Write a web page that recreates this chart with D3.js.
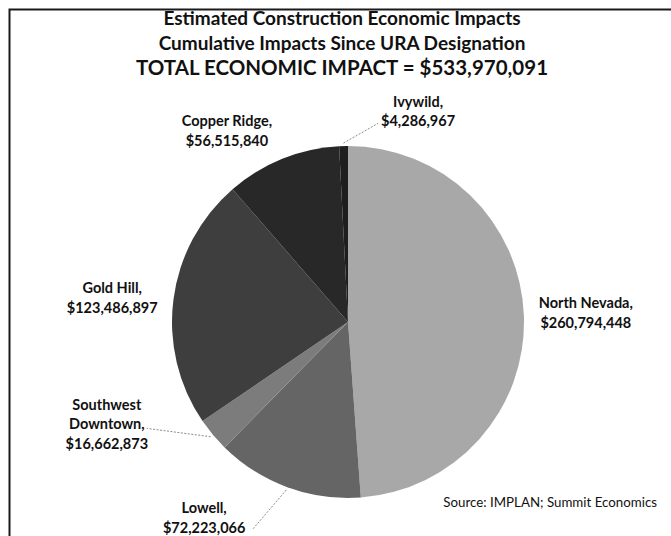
<!DOCTYPE html>
<html>
<head>
<meta charset="utf-8">
<script src="https://cdn.jsdelivr.net/npm/d3@7"></script>
<style>
  html, body { margin: 0; padding: 0; background: #fff; }
  svg { display: block; }
  text { font-family: Lato, "Open Sans", "DejaVu Sans", sans-serif; fill: #111; }
</style>
</head>
<body>
<svg id="chart" width="671" height="536"></svg>
<script>
// ---- data ----
const categories = ["North Nevada", "Lowell", "Southwest Downtown", "Gold Hill", "Copper Ridge", "Ivywild"];
const values = [260794448, 72223066, 16662873, 123486897, 56515840, 4286967];
const labelLines = [
  ["North Nevada,", "$260,794,448"],
  ["Lowell,", "$72,223,066"],
  ["Southwest", "Downtown,", "$16,662,873"],
  ["Gold Hill,", "$123,486,897"],
  ["Copper Ridge,", "$56,515,840"],
  ["Ivywild,", "$4,286,967"]
];
const titleLines = [
  "Estimated Construction Economic Impacts",
  "Cumulative Impacts Since URA Designation",
  "TOTAL ECONOMIC IMPACT = $533,970,091"
];
const sourceText = "Source: IMPLAN; Summit Economics";

// ---- layout / style ----
const W = 671, H = 536;
const cx = 348, cy = 322, R = 176;
const colors = ["#a8a8a8", "#656565", "#7c7c7c", "#3e3e3e", "#282828", "#1e1e1e"];
// label centre in polar coords relative to pie centre (deg clockwise from top, radius)
const labelPolar = [[87.8, 238], [216.3, 243], [247, 262], [275.8, 237], [327.6, 226], [18.4, 222]];
// leader lines: [index, end point offset from label centre]
const leaders = [
  {i: 5, dx: -40, dy: 12},
  {i: 2, dx: 40, dy: 4},
  {i: 1, dx: 48, dy: 12}
];

const svg = d3.select("#chart");

// frame
svg.append("path")
  .attr("d", `M9.5,${H + 5} V9.5 H${W + 5}`)
  .attr("fill", "none").attr("stroke", "#1a1a1a").attr("stroke-width", 2);

// titles
const titleY = [25, 50, 75];
const titleSize = [19, 19, 20.5];
titleLines.forEach((t, k) => {
  svg.append("text")
    .attr("x", 342).attr("y", titleY[k])
    .attr("text-anchor", "middle")
    .attr("font-weight", 700)
    .attr("font-size", titleSize[k])
    .text(t);
});

// pie
const pie = d3.pie().sort(null).value(d => d)(values);
const arc = d3.arc().innerRadius(0).outerRadius(R);
const g = svg.append("g").attr("transform", `translate(${cx},${cy})`);
g.selectAll("path.slice").data(pie).enter().append("path")
  .attr("class", "slice")
  .attr("d", arc)
  .attr("fill", (d, i) => colors[i]);

// labels
const rad = a => a * Math.PI / 180;
const lineH = 19.5;
const labelPos = labelPolar.map(([a, r]) => [Math.sin(rad(a)) * r, -Math.cos(rad(a)) * r]);

// leader lines
leaders.forEach(l => {
  const d = pie[l.i];
  const mid = (d.startAngle + d.endAngle) / 2;
  const p0 = [Math.sin(mid) * (R + 3), -Math.cos(mid) * (R + 3)];
  const p1 = [labelPos[l.i][0] + l.dx, labelPos[l.i][1] + l.dy];
  g.append("line")
    .attr("x1", p0[0]).attr("y1", p0[1])
    .attr("x2", p1[0]).attr("y2", p1[1])
    .attr("stroke", "#8a8a8a").attr("stroke-width", 1)
    .attr("stroke-dasharray", "2,1.5");
});

labelLines.forEach((lines, i) => {
  const [x, y] = labelPos[i];
  const n = lines.length;
  const t = g.append("text")
    .attr("text-anchor", "middle")
    .attr("font-weight", 700)
    .attr("font-size", 14.5);
  lines.forEach((s, k) => {
    t.append("tspan")
      .attr("x", x)
      .attr("y", y + (k - (n - 1) / 2) * lineH + 5)
      .text(s);
  });
});

// source
svg.append("text")
  .attr("x", 657).attr("y", 507)
  .attr("text-anchor", "end")
  .attr("font-size", 13.3)
  .text(sourceText);
</script>
</body>
</html>
